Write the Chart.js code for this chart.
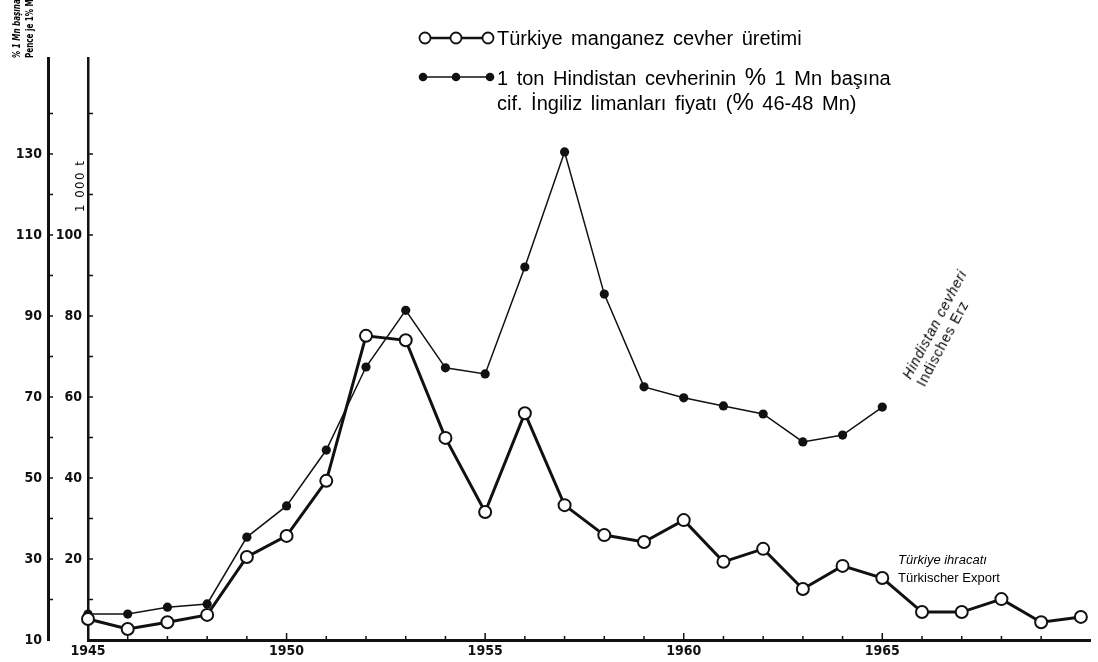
<!DOCTYPE html>
<html>
<head>
<meta charset="utf-8">
<script src="https://cdn.jsdelivr.net/npm/chart.js@4.4.1/dist/chart.umd.min.js"></script>
<style>
  html, body { margin: 0; padding: 0; background: #fff; }
  #wrap { position: relative; width: 1098px; height: 662px; overflow: hidden;
          font-family: "Liberation Sans", Arial, sans-serif; color: #000; }
  #chart { position: absolute; left: 0; top: 0; }
  .note { position: absolute; white-space: nowrap; }
  .rot { transform-origin: 0 0; }
  .leg { font-size: 20px; line-height: 24px; word-spacing: 3px; }
  .pct { font-size: 24px; }
  .it { font-style: italic; }
  .narrow { font-family: "Liberation Sans Narrow", "DejaVu Sans Condensed", "Liberation Sans", sans-serif; }
</style>
</head>
<body>
<div id="wrap">
  <canvas id="chart" width="1098" height="662"></canvas>

  <!-- legend -->
  <svg class="note" style="left:412px; top:28px;" width="86" height="60">
    <line x1="13" y1="10" x2="76" y2="10" stroke="#111" stroke-width="2.5"/>
    <circle cx="13" cy="10" r="5.5" fill="#fff" stroke="#111" stroke-width="1.8"/>
    <circle cx="44" cy="10" r="5.5" fill="#fff" stroke="#111" stroke-width="1.8"/>
    <circle cx="76" cy="10" r="5.5" fill="#fff" stroke="#111" stroke-width="1.8"/>
    <line x1="11" y1="49" x2="78" y2="49" stroke="#111" stroke-width="1.5"/>
    <circle cx="11" cy="49" r="4.3" fill="#111"/>
    <circle cx="44" cy="49" r="4.3" fill="#111"/>
    <circle cx="78" cy="49" r="4.3" fill="#111"/>
  </svg>
  <div class="note leg" style="left:497px; top:26px;">Türkiye manganez cevher üretimi</div>
  <div class="note leg" style="left:497px; top:65px;">1 ton Hindistan cevherinin <span class="pct">%</span> 1 Mn başına</div>
  <div class="note leg" style="left:497px; top:90px;">cif. İngiliz limanları fiyatı (<span class="pct">%</span> 46-48 Mn)</div>

  <!-- axis units -->
  <div class="note rot narrow" style="left:10px; top:58px; font-size:10px; line-height:13px; font-weight:bold; transform:rotate(-90deg) scaleX(0.8);">
    <div class="it">% 1 Mn başına</div>
    <div>Pence je 1% Mn</div>
  </div>
  <div class="note rot narrow" style="left:72px; top:212px; font-size:13px; letter-spacing:1.5px; transform:rotate(-90deg);">1 000 t</div>

  <!-- series notes -->
  <div class="note rot" style="left:899px; top:374px; font-size:14px; line-height:16px; letter-spacing:0.8px; transform:rotate(-62deg);">
    <div class="it">Hindistan cevheri</div>
    <div>Indisches Erz</div>
  </div>
  <div class="note it" style="left:898px; top:552px; font-size:13px;">Türkiye ihracatı</div>
  <div class="note" style="left:898px; top:570px; font-size:13px;">Türkischer Export</div>
</div>

<script>
// years on the x axis
var years = [1945, 1946, 1947, 1948, 1949, 1950, 1951, 1952, 1953, 1954, 1955, 1956, 1957,
             1958, 1959, 1960, 1961, 1962, 1963, 1964, 1965, 1966, 1967, 1968, 1969, 1970];

// Türkiye manganez cevher üretimi, 1 000 t (inner axis)
var turkeyOutput = [5.2, 2.7, 4.4, 6.2, 20.5, 25.7, 39.3, 75.1, 74.0, 49.9, 31.6, 56.0, 33.3,
                    25.9, 24.2, 29.6, 19.3, 22.5, 12.6, 18.3, 15.3, 6.9, 6.9, 10.1, 4.4, 5.7];

// Hindistan cevheri, pence per 1% Mn (outer axis), 1945-1965
var indiaPrice = [16.4, 16.4, 18.1, 18.9, 35.4, 43.1, 56.9, 77.4, 91.4, 77.2, 75.7, 102.1, 130.5,
                  95.4, 72.5, 69.8, 67.8, 65.8, 58.9, 60.6, 67.5];

// labelled ticks
var tonLabels = [20, 40, 60, 80, 100];
var penceLabels = [10, 30, 50, 70, 90, 110, 130];
var yearLabels = [1945, 1950, 1955, 1960, 1965];

var ink = '#111';
var tickFont = {
  family: '"Liberation Sans Narrow", "DejaVu Sans Condensed", "Liberation Sans", sans-serif',
  size: 14,
  weight: 'bold'
};

function toPoints(values) {
  return values.map(function (v, i) { return { x: years[i], y: v }; });
}

// small tick marks pointing into the plot, like the printed chart
var inwardTicks = {
  id: 'inwardTicks',
  afterDraw: function (chart) {
    var ctx = chart.ctx;
    var area = chart.chartArea;
    ctx.save();
    ctx.strokeStyle = ink;
    ctx.lineWidth = 1.5;

    ['y', 'y1'].forEach(function (id) {
      var s = chart.scales[id];
      var x = id === 'y' ? area.left : s.right;
      s.ticks.forEach(function (t) {
        if (t.value % 10 !== 0 || t.value === s.min) return;
        var py = s.getPixelForValue(t.value);
        ctx.beginPath();
        ctx.moveTo(x, py);
        ctx.lineTo(x + 5, py);
        ctx.stroke();
      });
    });

    var sx = chart.scales.x;
    sx.ticks.forEach(function (t) {
      if (t.value % 1 !== 0 || t.value === sx.min) return;
      var px = sx.getPixelForValue(t.value);
      var len = t.value % 5 === 0 ? 7 : 4;
      ctx.beginPath();
      ctx.moveTo(px, area.bottom);
      ctx.lineTo(px, area.bottom - len);
      ctx.stroke();
    });
    ctx.restore();
  }
};

var ctx = document.getElementById('chart').getContext('2d');
var chart = new Chart(ctx, {
  type: 'line',
  data: {
    datasets: [
      {
        label: 'Türkiye manganez cevher üretimi',
        data: toPoints(turkeyOutput),
        yAxisID: 'y',
        borderColor: ink,
        borderWidth: 3,
        pointRadius: 6,
        pointBackgroundColor: '#fff',
        pointBorderColor: ink,
        pointBorderWidth: 2,
        tension: 0,
        clip: false
      },
      {
        label: 'Hindistan cevheri',
        data: toPoints(indiaPrice),
        yAxisID: 'y1',
        borderColor: ink,
        borderWidth: 1.5,
        pointRadius: 4.6,
        pointBackgroundColor: ink,
        pointBorderColor: ink,
        pointBorderWidth: 0,
        tension: 0,
        clip: false
      }
    ]
  },
  options: {
    responsive: false,
    animation: false,
    layout: { padding: { left: 0, right: 6, top: 58, bottom: 0 } },
    plugins: {
      legend: { display: false },
      tooltip: { enabled: false }
    },
    scales: {
      x: {
        type: 'linear',
        min: 1945,
        max: 1970.23,
        grid: { display: false, drawTicks: false },
        border: { display: true, color: ink, width: 3 },
        ticks: {
          stepSize: 1,
          autoSkip: false,
          maxRotation: 0,
          padding: 3,
          color: ink,
          font: tickFont,
          callback: function (v) { return yearLabels.indexOf(v) > -1 ? String(v) : ''; }
        },
        afterFit: function (s) { s.height = 22; }
      },
      y: {
        position: 'left',
        weight: 1,
        min: 0,
        max: 143.7,
        grid: { display: false, drawTicks: false },
        border: { display: true, color: ink, width: 2.5 },
        ticks: {
          stepSize: 10,
          autoSkip: false,
          padding: 6,
          color: ink,
          font: tickFont,
          callback: function (v) { return tonLabels.indexOf(v) > -1 ? String(v) : ''; }
        },
        afterFit: function (s) { s.width = 40; }
      },
      y1: {
        position: 'left',
        weight: 2,
        min: 10,
        max: 153.7,
        grid: { display: false, drawTicks: false },
        border: { display: true, color: ink, width: 3 },
        ticks: {
          stepSize: 10,
          autoSkip: false,
          padding: 6,
          color: ink,
          font: tickFont,
          callback: function (v) { return penceLabels.indexOf(v) > -1 ? String(v) : ''; }
        },
        afterFit: function (s) { s.width = 48; }
      }
    }
  },
  plugins: [inwardTicks]
});
</script>
</body>
</html>
